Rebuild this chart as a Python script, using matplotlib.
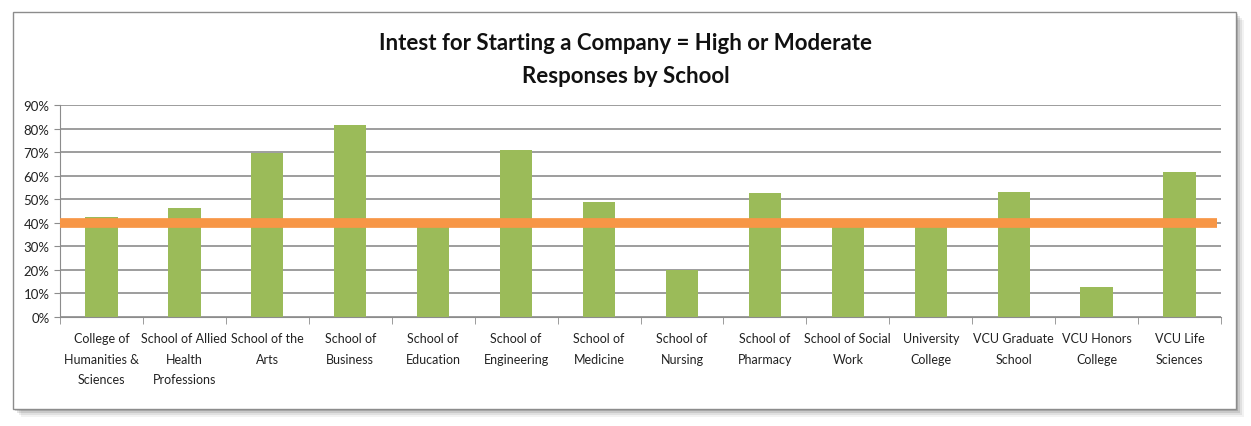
import numpy as np
import matplotlib.pyplot as plt
from matplotlib.patches import Rectangle
from matplotlib.ticker import PercentFormatter, FixedLocator

plt.rcParams['font.family'] = ['Lato', 'DejaVu Sans']

# Data
schools = ['College of\nHumanities &\nSciences', 'School of Allied\nHealth\nProfessions',
           'School of the\nArts', 'School of\nBusiness', 'School of\nEducation',
           'School of\nEngineering', 'School of\nMedicine', 'School of\nNursing',
           'School of\nPharmacy', 'School of Social\nWork', 'University\nCollege',
           'VCU Graduate\nSchool', 'VCU Honors\nCollege', 'VCU Life\nSciences']
pct_high_moderate = [0.423, 0.464, 0.696, 0.816, 0.388, 0.710, 0.489, 0.201,
                     0.525, 0.395, 0.415, 0.529, 0.127, 0.615]
overall_avg = 0.40

fig = plt.figure(figsize=(12.51, 4.27), dpi=100)
fig.patch.set_facecolor('white')

# chart frame with a soft shadow
for i, a in enumerate([0.05, 0.07, 0.1, 0.14]):
    off = (4 - i) * 0.0016
    fig.patches.append(Rectangle((0.010 + off, 0.040 - off * 3), 0.978, 0.93,
                                 transform=fig.transFigure, facecolor='#000000',
                                 alpha=a, edgecolor='none', zorder=0))
fig.patches.append(Rectangle((0.010, 0.040), 0.978, 0.93, transform=fig.transFigure,
                             facecolor='white', edgecolor='#8c8c8c', lw=1, zorder=1))

ax = fig.add_axes([60 / 1251, (427 - 318) / 427, (1221 - 60) / 1251, (318 - 106) / 427])
ax.set_zorder(2)
ax.patch.set_alpha(0)

x = np.arange(len(schools))
ax.bar(x, pct_high_moderate, width=0.39, color='#9BBB59', zorder=2)
ax.plot([-0.5, len(schools) - 0.55], [overall_avg, overall_avg], color='#F79646',
        lw=7, solid_capstyle='butt', zorder=3)

ax.set_xlim(-0.5, len(schools) - 0.5)
ax.set_ylim(0, 0.9)
ax.set_yticks(np.arange(0, 0.91, 0.1))
ax.yaxis.set_major_formatter(PercentFormatter(1.0, decimals=0))
ax.grid(axis='y', color='#8c8c8c', lw=1.2, zorder=0)
ax.set_axisbelow(True)

ax.set_xticks(x)
ax.set_xticklabels(schools, fontsize=9, color='#222222', linespacing=1.85)
ax.tick_params(axis='x', length=0, pad=11)
ax.xaxis.set_minor_locator(FixedLocator(np.arange(-0.5, len(schools), 1.0)))
ax.tick_params(axis='x', which='minor', length=5, color='#8c8c8c', direction='out')
ax.tick_params(axis='y', length=4, color='#8c8c8c', labelsize=9.5, labelcolor='#222222')
for s in ['top', 'right']:
    ax.spines[s].set_visible(False)
for s in ['left', 'bottom']:
    ax.spines[s].set_color('#8c8c8c')

fig.text(0.5, 0.897, 'Intest for Starting a Company = High or Moderate', ha='center',
         va='center', fontsize=16, fontweight='bold', color='#111111')
fig.text(0.5, 0.820, 'Responses by School', ha='center', va='center',
         fontsize=16, fontweight='bold', color='#111111')

fig.savefig('out.png', dpi=100)
